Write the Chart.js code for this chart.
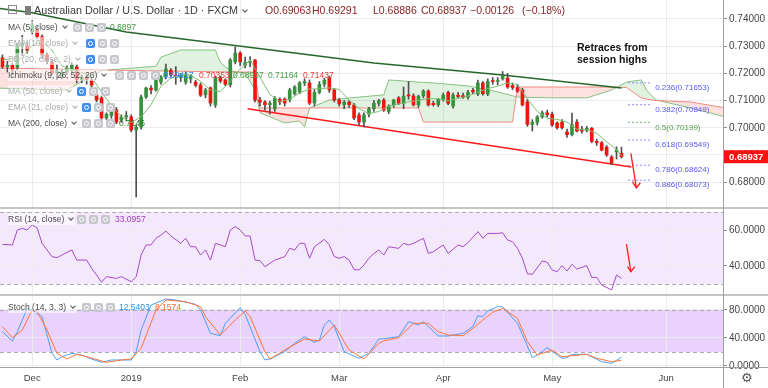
<!DOCTYPE html>
<html>
<head>
<meta charset="utf-8">
<script src="https://cdn.jsdelivr.net/npm/chart.js@4.4.0/dist/chart.umd.min.js"></script>
<style>
body{margin:0;background:#fff;}
#wrap{position:relative;width:768px;height:388px;overflow:hidden;font-family:"Liberation Sans",Arial,sans-serif;}
canvas{position:absolute;left:0;}
.hl{position:absolute;left:0;width:768px;height:2px;background:#c4c4c8;}
.vl{position:absolute;left:723px;top:0;width:1px;height:388px;background:#9ea0a6;}
.lg{position:absolute;left:0;width:420px;height:12px;font-size:8.5px;line-height:12px;white-space:nowrap;}
.lg>*{position:absolute;top:0;}
.t{left:8px;color:#4a4a4a;background:rgba(255,255,255,0.55);padding-right:2px;}
.t.off{color:#ababab;}
.cv{display:inline-block;width:3px;height:3px;border-right:1px solid #555;border-bottom:1px solid #555;transform:rotate(45deg);margin:0 0 2px 5px;}
.off .cv{border-color:#aaa;}
.ic{width:9px;height:9px;border-radius:2px;background:#c6c8cd;top:1.5px;}
.ic.on{background:#3d8ef2;}
.ic::after{content:'';position:absolute;left:2px;top:2px;width:3px;height:3px;border:1px solid #fff;border-radius:50%;}
.v{font-size:8.5px;}
#title{position:absolute;left:34px;top:4px;font-size:10.8px;line-height:12px;color:#3a3a3a;white-space:nowrap;}
.oh{position:absolute;top:4px;font-size:10.5px;line-height:12px;color:#862525;white-space:nowrap;}
#note{position:absolute;left:577px;top:42px;font-size:10.5px;font-weight:bold;line-height:11.5px;color:#111;}
</style>
</head>
<body>
<div id="wrap">
  <canvas id="cPrice" width="768" height="207" style="top:0"></canvas>
  <canvas id="cRsi" width="768" height="85" style="top:209px"></canvas>
  <canvas id="cStoch" width="768" height="92" style="top:296px"></canvas>
  <div class="hl" style="top:207px"></div>
  <div class="hl" style="top:294px"></div>
  <div class="hl" style="top:367px;height:1px;background:#9ea0a6"></div>
  <div class="vl"></div>
  <div style="position:absolute;left:741px;top:370px;font:13px 'DejaVu Sans';color:#555">⚙</div>

  <div style="position:absolute;left:8px;top:5px;width:7px;height:7px;border:1px solid #8a8a8a;"></div>
  <div style="position:absolute;left:10px;top:9px;width:5px;height:1px;background:#8a8a8a;"></div>
  <div style="position:absolute;left:25px;top:6px;width:6px;height:9px;background:#7c7c7c;"></div>
  <div id="title">Australian Dollar / U.S. Dollar · 1D · FXCM<span class="cv"></span></div>
  <div class="oh" style="left:265px">O0.69063</div>
  <div class="oh" style="left:312px">H0.69291</div>
  <div class="oh" style="left:373px">L0.68886</div>
  <div class="oh" style="left:421px">C0.68937</div>
  <div class="oh" style="left:470px">−0.00126</div>
  <div class="oh" style="left:522px">(−0.18%)</div>

  <div class="lg" style="top:21px"><span class="t">MA (5, close)<span class="cv"></span></span>
    <i class="ic" style="left:73px"></i><i class="ic" style="left:85px"></i><i class="ic" style="left:97px"></i>
    <span class="v" style="left:110px;color:#3f9a3f">0.6897</span></div>
  <div class="lg" style="top:37px"><span class="t off">EMA (10, close)<span class="cv"></span></span>
    <i class="ic on" style="left:86px"></i><i class="ic" style="left:98px"></i><i class="ic" style="left:110px"></i></div>
  <div class="lg" style="top:53px"><span class="t off">BB (20, close, 2)<span class="cv"></span></span>
    <i class="ic on" style="left:86px"></i><i class="ic" style="left:98px"></i><i class="ic" style="left:110px"></i></div>
  <div class="lg" style="top:69px"><span class="t">Ichimoku (9, 26, 52, 26)<span class="cv"></span></span>
    <i class="ic" style="left:115px"></i><i class="ic" style="left:127px"></i><i class="ic" style="left:139px"></i><i class="ic" style="left:151px"></i>
    <span class="v" style="left:163px;color:#2196f3">0.69417</span>
    <span class="v" style="left:199px;color:#e53935">0.70353</span>
    <span class="v" style="left:233px;color:#43a047">0.68957</span>
    <span class="v" style="left:268px;color:#43a047">0.71164</span>
    <span class="v" style="left:303px;color:#e53935">0.71437</span></div>
  <div class="lg" style="top:85px"><span class="t off">MA (50, close)<span class="cv"></span></span>
    <i class="ic on" style="left:77px"></i><i class="ic" style="left:89px"></i><i class="ic" style="left:101px"></i></div>
  <div class="lg" style="top:101px"><span class="t off">EMA (21, close)<span class="cv"></span></span>
    <i class="ic on" style="left:82px"></i><i class="ic" style="left:94px"></i><i class="ic" style="left:106px"></i></div>
  <div class="lg" style="top:117px"><span class="t">MA (200, close)<span class="cv"></span></span>
    <i class="ic" style="left:82px"></i><i class="ic" style="left:94px"></i><i class="ic" style="left:106px"></i>
    <span class="v" style="left:119px;color:#2f7d2f">0.7146</span></div>
  <div class="lg" style="top:213px"><span class="t">RSI (14, close)<span class="cv"></span></span>
    <i class="ic" style="left:77px"></i><i class="ic" style="left:89px"></i><i class="ic" style="left:101px"></i>
    <span class="v" style="left:115px;color:#a33cc4">33.0957</span></div>
  <div class="lg" style="top:301px"><span class="t">Stoch (14, 3, 3)<span class="cv"></span></span>
    <i class="ic" style="left:82px"></i><i class="ic" style="left:94px"></i><i class="ic" style="left:106px"></i>
    <span class="v" style="left:119px;color:#2196f3">12.5403</span>
    <span class="v" style="left:155px;color:#ff6d2a">8.1574</span></div>

  <div id="note">Retraces from<br>session highs</div>
</div>

<script>
// ---- data ----
const TOTAL_BARS = 146;           // bar slots on the time axis, incl. empty space on the right
const monthIdx = [6, 26, 48, 68, 89, 111, 134];
const monthLabels = ['Dec', '2019', 'Feb', 'Mar', 'Apr', 'May', 'Jun'];
const priceTicks = [0.68, 0.69, 0.70, 0.71, 0.72, 0.73, 0.74];
const rsiTicks = [40, 60];
const stochTicks = [0, 40, 80];

const opens = [.7257,.7224,.7230,.7222,.7300,.7300,.7352,.7360,.7335,.7268,.7240,.7201,.7187,.7205,.7213,.7224,.7176,.7185,.7176,.7121,
  .7110,.7036,.7045,.7066,.7030,.7040,.7040,.6992,.7003,.7113,.7146,.7139,.7168,.7187,.7212,.7194,.7185,.7168,.7180,.7168,
  .7157,.7121,.7147,.7084,.7183,.7176,.7158,.7242,.7275,.7230,.7240,.7249,.7102,.7095,.7085,.7070,.7105,.7106,.7103,.7125,
  .7132,.7165,.7165,.7091,.7130,.7160,.7183,.7139,.7102,.7085,.7095,.7084,.7047,.7021,.7050,.7070,.7090,.7102,.7060,.7084,
  .7110,.7090,.7120,.7117,.7084,.7118,.7135,.7090,.7085,.7105,.7130,.7080,.7120,.7118,.7112,.7138,.7124,.7165,.7124,.7172,
  .7170,.7180,.7183,.7155,.7148,.7139,.7095,.7012,.7020,.7040,.7055,.7050,.7018,.7021,.6985,.6975,.7021,.6995,.6990,.6998,
  .6950,.6945,.6929,.6893,.6911,.69063];
const highs = [.7268,.7245,.7238,.7310,.7340,.7320,.7394,.7372,.7342,.7275,.7250,.7232,.7215,.7228,.7240,.7232,.7195,.7195,.7185,.7135,
  .7115,.7055,.7068,.7075,.7048,.7060,.7048,.7010,.7120,.7150,.7155,.7185,.7192,.7234,.7218,.7225,.7200,.7205,.7195,.7175,
  .7165,.7145,.7150,.7190,.7190,.7180,.7255,.7297,.7280,.7260,.7262,.7252,.7112,.7100,.7098,.7115,.7110,.7110,.7145,.7155,
  .7170,.7180,.7176,.7140,.7170,.7182,.7190,.7145,.7108,.7100,.7100,.7090,.7055,.7055,.7075,.7100,.7105,.7108,.7085,.7105,
  .7115,.7150,.7170,.7125,.7120,.7140,.7140,.7098,.7108,.7128,.7135,.7128,.7130,.7128,.7138,.7145,.7175,.7170,.7180,.7185,
  .7185,.7207,.7200,.7165,.7160,.7145,.7105,.7030,.7045,.7062,.7065,.7058,.7022,.7030,.6995,.7054,.7030,.7005,.7005,.7002,
  .6958,.6950,.6935,.6898,.6930,.69291];
const lows = [.7218,.7205,.7195,.7212,.7265,.7272,.7345,.7328,.7255,.7235,.7195,.7177,.7180,.7195,.7205,.7165,.7165,.7160,.7150,.7095,
  .7030,.7030,.7035,.7015,.7020,.7025,.6985,.6746,.6995,.7108,.7125,.7135,.7160,.7180,.7185,.7160,.7170,.7160,.7165,.7150,
  .7115,.7110,.7080,.7075,.7165,.7155,.7150,.7235,.7228,.7220,.7225,.7095,.7080,.7065,.7050,.7060,.7085,.7080,.7095,.7120,
  .7125,.7155,.7085,.7080,.7125,.7150,.7130,.7095,.7080,.7070,.7075,.7030,.7010,.7003,.7040,.7060,.7080,.7060,.7052,.7075,
  .7085,.7070,.7105,.7080,.7075,.7110,.7080,.7080,.7078,.7098,.7085,.7072,.7110,.7108,.7105,.7125,.7118,.7120,.7118,.7160,
  .7158,.7175,.7145,.7140,.7130,.7080,.7005,.6988,.7010,.7035,.7040,.7005,.6995,.6995,.6965,.6970,.6985,.6980,.6985,.6945,
  .6935,.6915,.6895,.6865,.6885,.68886];
const closes = [.7224,.7230,.7213,.7304,.7312,.7285,.7378,.7335,.7268,.7250,.7201,.7210,.7205,.7218,.7231,.7176,.7187,.7178,.7157,.7102,
  .7036,.7050,.7060,.7021,.7040,.7045,.6992,.7003,.7113,.7146,.7139,.7176,.7187,.7216,.7194,.7190,.7195,.7194,.7190,.7157,
  .7120,.7139,.7091,.7183,.7172,.7160,.7249,.7275,.7242,.7240,.7245,.7102,.7095,.7085,.7090,.7109,.7095,.7091,.7139,.7150,
  .7165,.7170,.7091,.7130,.7160,.7175,.7139,.7102,.7088,.7095,.7085,.7036,.7021,.7047,.7070,.7090,.7100,.7065,.7080,.7102,
  .7090,.7116,.7117,.7084,.7116,.7135,.7084,.7085,.7105,.7120,.7090,.7120,.7115,.7112,.7130,.7132,.7165,.7125,.7170,.7170,
  .7172,.7190,.7150,.7148,.7135,.7084,.7012,.7020,.7040,.7055,.7048,.7010,.7000,.7000,.6975,.7012,.6988,.6988,.6998,.6950,
  .6945,.6918,.6900,.6871,.6918,.68937];

// [bar index, value]
const ma5Series = [[0,.7250],[4,.7257],[6,.7303],[8,.7316],[10,.7286],[12,.7227],[14,.7213],[16,.7203],[18,.7185],[20,.7132],
  [22,.7081],[24,.7041],[26,.7020],[28,.7040],[30,.7085],[32,.7153],[34,.7182],[36,.7196],[38,.7194],[40,.7171],
  [42,.7139],[44,.7133],[46,.7171],[48,.7216],[50,.7250],[52,.7186],[54,.7123],[56,.7097],[58,.7104],[60,.7128],
  [62,.7143],[64,.7143],[66,.7147],[68,.7141],[70,.7102],[72,.7071],[74,.7052],[76,.7060],[78,.7080],[80,.7087],
  [82,.7095],[84,.7101],[86,.7107],[88,.7107],[90,.7099],[92,.7108],[94,.7117],[96,.7131],[98,.7144],[100,.7153],
  [102,.7165],[104,.7159],[106,.7106],[108,.7060],[110,.7035],[112,.7031],[114,.7021],[116,.6995],[118,.6992],[120,.6980],
  [122,.6948],[124,.6920],[125,.6897]];
const ma200Series = [[-1,.7440],[6,.7423],[25,.7352],[51,.7293],[75,.7238],[101,.7194],[125,.7146]];
const spanASeries = [[-1,.7146],[13,.7139],[20,.7210],[25,.7218],[31,.7226],[32,.7260],[36,.7286],[43,.7286],[44,.7240],[46,.7210],
  [49,.7200],[51,.7140],[52,.7055],[57,.7018],[60,.7025],[61,.7003],[62,.7073],[66,.7102],[72,.7113],[77,.7121],
  [78,.7176],[84,.7168],[85,.7167],[87,.7165],[94,.7154],[100,.7132],[103,.7118],[104,.7113],[111,.7110],[118,.7110],
  [123,.7139],[126,.7168],[129,.7176],[130,.7139],[132,.7102],[139,.7073],[146,.7040]];
const spanBSeries = [[-1,.7220],[13,.7215],[20,.7213],[25,.7211],[31,.7209],[32,.7209],[36,.7208],[43,.7206],[44,.7206],[46,.7205],
  [49,.7205],[51,.7205],[52,.7073],[57,.7073],[60,.7073],[61,.7073],[62,.7073],[66,.7073],[72,.7073],[77,.7073],
  [78,.7073],[84,.7073],[85,.7021],[87,.7021],[94,.7021],[100,.7021],[103,.7021],[104,.7150],[111,.7150],[118,.7150],
  [123,.7150],[126,.7148],[129,.7110],[130,.7106],[132,.7100],[139,.7095],[146,.7073]];
const trendSeries = [[49.5,.7070],[127,.6856]];
const priceArrow = [[126.9,.6906],[128.0,.6779]];
const priceArrowHead = [[127.2,.6802],[128.0,.6779],[128.8,.6798]];

const fibRatios = ['0.236', '0.382', '0.5', '0.618', '0.786', '0.886'];
const fibLevels = [0.71653, 0.70849, 0.70199, 0.69549, 0.68624, 0.68073];

const rsiSeries = [[0,52.0],[2,51.7],[3,60.0],[4,60.9],[5,60.0],[6,62.8],[7,61.1],[8,52.6],[10,45.2],[11,44.6],
  [12,46.1],[14,48.9],[15,43.3],[17,43.3],[18,38.7],[19,35.0],[20,31.0],[21,34.1],[23,33.1],[24,34.1],
  [26,31.3],[27,34.1],[28,46.1],[29,51.7],[30,51.7],[31,55.4],[32,57.2],[33,59.4],[34,56.7],[36,52.6],
  [37,55.4],[38,50.7],[39,50.7],[40,46.1],[41,48.9],[42,43.3],[43,52.6],[44,51.7],[45,50.7],[46,60.0],
  [47,61.9],[48,60.0],[49,56.7],[50,56.7],[51,43.3],[52,43.0],[53,39.6],[55,43.3],[57,45.2],[58,49.8],
  [59,48.9],[60,52.6],[61,52.6],[62,44.3],[63,50.7],[65,54.8],[66,51.7],[67,45.2],[68,44.3],[69,45.2],
  [70,43.3],[71,38.0],[72,37.8],[73,40.6],[74,44.3],[75,47.0],[76,48.9],[77,46.1],[78,50.7],[80,49.8],
  [81,52.6],[82,51.7],[83,52.6],[85,55.4],[86,47.0],[87,47.9],[89,51.7],[90,47.0],[92,51.7],[93,50.7],
  [94,53.0],[96,59.1],[97,55.4],[98,58.1],[100,58.1],[101,58.5],[102,54.4],[103,53.5],[104,49.8],[105,44.3],
  [106,35.6],[107,35.4],[109,42.8],[110,42.1],[111,37.8],[112,36.8],[113,40.2],[114,37.2],[115,40.9],[116,38.3],
  [118,40.2],[119,33.7],[120,33.7],[121,29.4],[123,26.7],[124,35.0],[125,33.1]];
const rsiArrow = [[126.0,52.2],[126.9,36.8]];
const rsiArrowHead = [[126.2,39.6],[126.9,36.8],[127.7,39.6]];

const stochK = [[0,49],[2,35.7],[3,49],[5,82.4],[6,80],[8,70.5],[10,18.1],[11,8.6],[12,13.3],[14,18.1],
  [16,15.7],[18,10],[20,5.2],[22,8.6],[26,8.6],[27,20.5],[28,51.4],[30,87.1],[33,95.7],[35,94.3],
  [39,88.1],[40,80],[42,46.7],[44,43.3],[45,61],[48,83.3],[49,73.8],[52,20.5],[53,8.6],[54,10],
  [57,20.5],[59,32.4],[61,41.9],[63,33.8],[64,37.1],[65,58.6],[66,65.7],[67,56.2],[69,20.5],[72,11],
  [74,18.1],[76,38.6],[77,39],[80,41.9],[82,63.3],[84,58.6],[85,63.3],[88,42.9],[90,42.9],[93,46.7],
  [95,56.2],[96,71.9],[97,70.5],[98,78.6],[100,84.7],[101,84.7],[104,61],[107,11.9],[108,15.7],[110,26.2],
  [112,15.7],[113,11],[114,11.9],[115,16.7],[118,16.7],[121,6.2],[123,3.8],[125,12.54]];
const stochD = [[0,56.2],[2,40.5],[4,51.4],[6,80],[7,77.6],[9,51.4],[11,18.1],[13,10],[15,16.7],[17,13.3],
  [21,5.2],[24,8.6],[26,10],[28,25.3],[31,80],[33,94.3],[37,91.9],[40,84.7],[41,70.5],[44,44.3],
  [47,65.7],[49,78.6],[50,70.5],[53,20.5],[54,10],[57,22.9],[61,38.6],[64,35.7],[67,58.6],[70,22.9],
  [73,10],[76,32.4],[77,36],[80,40.5],[83,61],[86,61],[88,49],[90,44.3],[93,43.3],[95,53.8],
  [97,65.7],[99,76.7],[101,82.4],[104,68.1],[106,34.8],[108,15.7],[111,22.9],[113,13.3],[118,16.7],[120,11],
  [123,6.2],[125,8.16]];

// ---- look ----
const FONT = '"Liberation Sans", Arial, sans-serif';
const GRID = '#ececec';
const LABEL = '#454545';
const UP = '#37923d', DOWN = '#f2150f', WICK = '#4f4f4f';
const FIB_X = [126.3, 131.0], FIB_LABEL_X = 131.8;

Chart.defaults.font.family = FONT;
Chart.defaults.animation = false;

const pts = arr => arr.map(([x, y]) => ({x, y}));
const line = (data, color, width, extra) => Object.assign(
  {type: 'line', data: pts(data), borderColor: color, borderWidth: width, pointRadius: 0, fill: false, tension: 0}, extra || {});

function xAxis(showLabels) {
  return {
    type: 'linear', min: -0.5, max: TOTAL_BARS - 0.5, offset: false,
    afterBuildTicks: s => { s.ticks = monthIdx.map(v => ({value: v})); },
    afterFit: s => { s.height = showLabels ? 21 : 0; s.paddingLeft = 0; s.paddingRight = 0; },
    grid: {color: GRID, drawTicks: false, offset: false},
    border: {display: false},
    ticks: {display: showLabels, autoSkip: false, maxRotation: 0, padding: 6, color: LABEL,
      font: {size: 9.5}, callback: (v, i) => monthLabels[i]}
  };
}
function yAxis(min, max, ticks, digits) {
  return {
    position: 'right', min, max,
    afterBuildTicks: s => { s.ticks = ticks.map(v => ({value: v})); },
    afterFit: s => { s.width = 45; s.paddingTop = 0; s.paddingBottom = 0; },
    grid: {color: GRID, tickLength: 4, tickColor: '#8d8d8d'},
    border: {display: false},
    ticks: {padding: 2, color: LABEL, font: {size: 10}, callback: v => Number(v).toFixed(digits)}
  };
}
function opts(y, showX) {
  return {
    responsive: false, animation: false,
    layout: {padding: 0, autoPadding: false},
    plugins: {legend: {display: false}, tooltip: {enabled: false}},
    scales: {x: xAxis(showX), y}
  };
}
function band(lo, hi, color) {
  return {
    id: 'band',
    beforeDraw(chart) {
      const {ctx, chartArea: a, scales: {y}} = chart;
      const top = y.getPixelForValue(hi), bot = y.getPixelForValue(lo);
      ctx.save(); ctx.fillStyle = color; ctx.fillRect(a.left, top, a.right - a.left, bot - top); ctx.restore();
    },
    beforeDatasetsDraw(chart) {
      const {ctx, chartArea: a, scales: {y}} = chart;
      ctx.save(); ctx.strokeStyle = '#ababb5'; ctx.lineWidth = 1; ctx.setLineDash([4, 3]);
      [lo, hi].forEach(v => {
        const py = Math.round(y.getPixelForValue(v)) + 0.5;
        ctx.beginPath(); ctx.moveTo(a.left, py); ctx.lineTo(a.right, py); ctx.stroke();
      });
      ctx.restore();
    }
  };
}

// price pane
const priceOverlay = {
  id: 'priceOverlay',
  afterDatasetsDraw(chart) {
    const {ctx, scales: {x, y}} = chart;
    ctx.save();
    ctx.font = '8px ' + FONT; ctx.textBaseline = 'middle';
    fibRatios.forEach((r, k) => {
      ctx.fillStyle = r === '0.5' ? '#4e9a4e' : '#5a5af2';
      ctx.fillText(r + '(' + fibLevels[k].toFixed(5) + ')', x.getPixelForValue(FIB_LABEL_X), y.getPixelForValue(fibLevels[k]) + 5);
    });
    ctx.restore();
  },
  afterDraw(chart) {
    const {ctx, chartArea: a, scales: {y}} = chart;
    const last = closes[closes.length - 1];
    const py = y.getPixelForValue(last);
    ctx.save();
    ctx.fillStyle = '#ff1010'; ctx.fillRect(a.right + 1, py - 6.5, 45, 13);
    ctx.fillStyle = '#fff'; ctx.font = 'bold 9.5px ' + FONT; ctx.textBaseline = 'middle';
    ctx.fillText(last.toFixed(5), a.right + 6, py + 0.5);
    ctx.restore();
  }
};

const fibSets = fibLevels.map((l, k) => line([[FIB_X[0], l], [FIB_X[1], l]],
  fibRatios[k] === '0.5' ? '#74b874' : '#8a8af5', 1, {borderDash: [2, 2], order: 1}));

new Chart(document.getElementById('cPrice'), {
  type: 'bar',
  data: {datasets: [
    line(spanASeries, '#86c182', 1, {order: 9, fill: {target: '+1', above: 'rgba(76,175,80,0.17)', below: 'rgba(244,67,54,0.16)'}}),
    line(spanBSeries, '#f08a84', 1, {order: 8}),
    line(ma200Series, '#25672a', 1.5, {order: 6}),
    line(trendSeries, '#ff1a1a', 1.5, {order: 5}),
    {type: 'bar', data: highs.map((h, i) => ({x: i, y: [lows[i], h]})), backgroundColor: WICK,
      barThickness: 1, grouped: false, order: 4},
    {type: 'bar', data: closes.map((c, i) => ({x: i, y: [opens[i], c]})),
      backgroundColor: closes.map((c, i) => c >= opens[i] ? UP : DOWN),
      barThickness: 3, minBarLength: 1, grouped: false, order: 3},
    line(ma5Series, '#7cbf74', 1, {order: 2}),
    ...fibSets,
    line(priceArrow, '#ff1a1a', 1.3, {order: 0}),
    line(priceArrowHead, '#ff1a1a', 1.3, {order: 0})
  ]},
  options: opts(yAxis(0.670882, 0.746985, priceTicks, 5), false),
  plugins: [priceOverlay]
});

// RSI pane
new Chart(document.getElementById('cRsi'), {
  type: 'line',
  data: {datasets: [
    line(rsiSeries, '#a64bc8', 1),
    line(rsiArrow, '#ff1a1a', 1.3),
    line(rsiArrowHead, '#ff1a1a', 1.3)
  ]},
  options: opts(yAxis(24.44, 71.67, rsiTicks, 4), false),
  plugins: [band(30, 70, '#f4e9fc')]
});

// Stochastic pane with the time axis
new Chart(document.getElementById('cStoch'), {
  type: 'line',
  data: {datasets: [
    line(stochD, '#ff7337', 1),
    line(stochK, '#4aa0f5', 1)
  ]},
  options: opts(yAxis(-1.43, 100, stochTicks, 4), true),
  plugins: [band(20, 80, '#e9d2fb')]
});
</script>
</body>
</html>
